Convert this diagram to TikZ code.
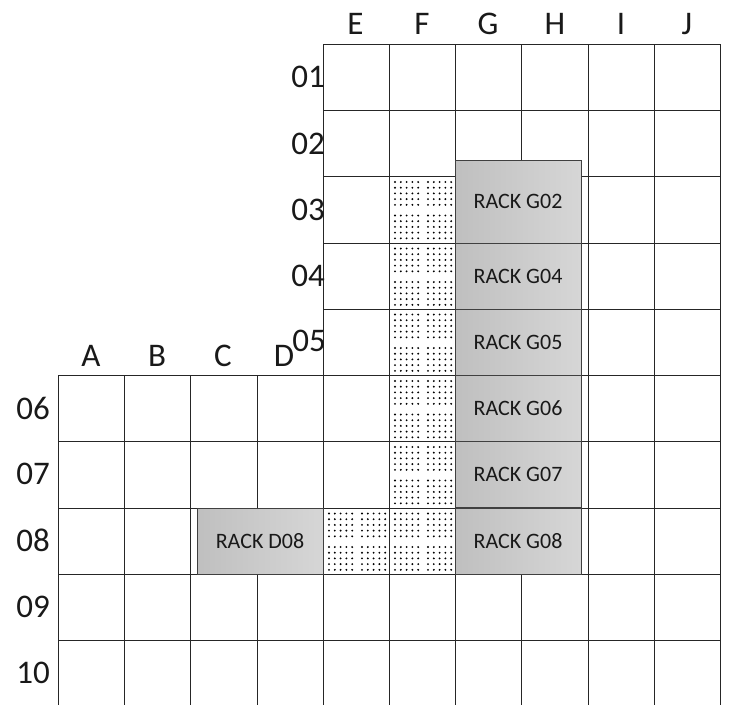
\documentclass[tikz,border=0pt]{standalone}
\usepackage{fontspec}
\setmainfont{Carlito}
\tikzset{
  gridline/.style={draw=black!85, line width=0.9pt},
  rackbox/.style={draw=black!75, line width=0.9pt, left color=black!25, right color=black!16,
    shading angle=90, inner sep=0pt, minimum width=126pt, text=black!90, font=\fontsize{22}{22}\selectfont},
  collabel/.style={font=\fontsize{33}{33}\selectfont, inner sep=0pt, text=black!90},
}
\begin{document}
\begin{tikzpicture}[x=1pt, y=-1pt]
  \useasboundingbox (0,0) rectangle (729,705);
  % dotted floor cells
  \foreach \cx/\cy in {389/176.5,389/243,389/309,389/375.5,389/441.5,389/508,323/508}{
    \foreach \bx/\by in {6/5.5,39/5.5,6/39,39/39}{
      \foreach \dx in {0,...,4}{
        \foreach \dy in {0,...,4}{
          \fill[black] (\cx+\bx+\dx*5.8,\cy+\by+\dy*5.7) circle (1.05pt);
        }
      }
    }
  }
  % grid, upper part
  \foreach \gx in {323,389,455,521.5,588,654,720.5}{\draw[gridline] (\gx,44)--(\gx,705);}
  \foreach \gy in {44,110.5,176.5,243,309}{\draw[gridline] (323,\gy)--(720.5,\gy);}
  % grid, lower part
  \foreach \gx in {58,124.5,190.5,257}{\draw[gridline] (\gx,375.5)--(\gx,705);}
  \foreach \gy in {375.5,441.5,508,574,640}{\draw[gridline] (58,\gy)--(720.5,\gy);}
  % racks
  \node[rackbox, minimum height=83pt] (rackG02) at (518,201.5) {RACK G02};
  \node[rackbox, minimum height=66pt] (rackG04) at (518,276) {RACK G04};
  \node[rackbox, minimum height=66pt] (rackG05) at (518,342) {RACK G05};
  \node[rackbox, minimum height=66pt] (rackG06) at (518,408.5) {RACK G06};
  \node[rackbox, minimum height=66pt] (rackG07) at (518,474.7) {RACK G07};
  \node[rackbox, minimum height=66pt] (rackG08) at (518,541) {RACK G08};
  \node[rackbox, minimum height=66pt] (rackD08) at (260,541) {RACK D08};
  % column letters
  \foreach \lab/\lx/\ly in {A/91/356,B/157/356,C/223/356,D/284/355.5,E/355.5/24,F/422/24,G/488/24,H/555/24,I/621/24,J/687/24}{
    \node[collabel] (col\lab) at (\lx,\ly) {\lab};
  }
  % row numbers
  \foreach \lab/\lx/\ly in {01/308/77,02/308/143.5,03/308/209.5,04/308/276,05/309/341,06/33/408,07/33/474,08/33/540.5,09/33/606.5,10/33/672.5}{
    \node[collabel] (row\lab) at (\lx,\ly) {\lab};
  }
\end{tikzpicture}
\end{document}
